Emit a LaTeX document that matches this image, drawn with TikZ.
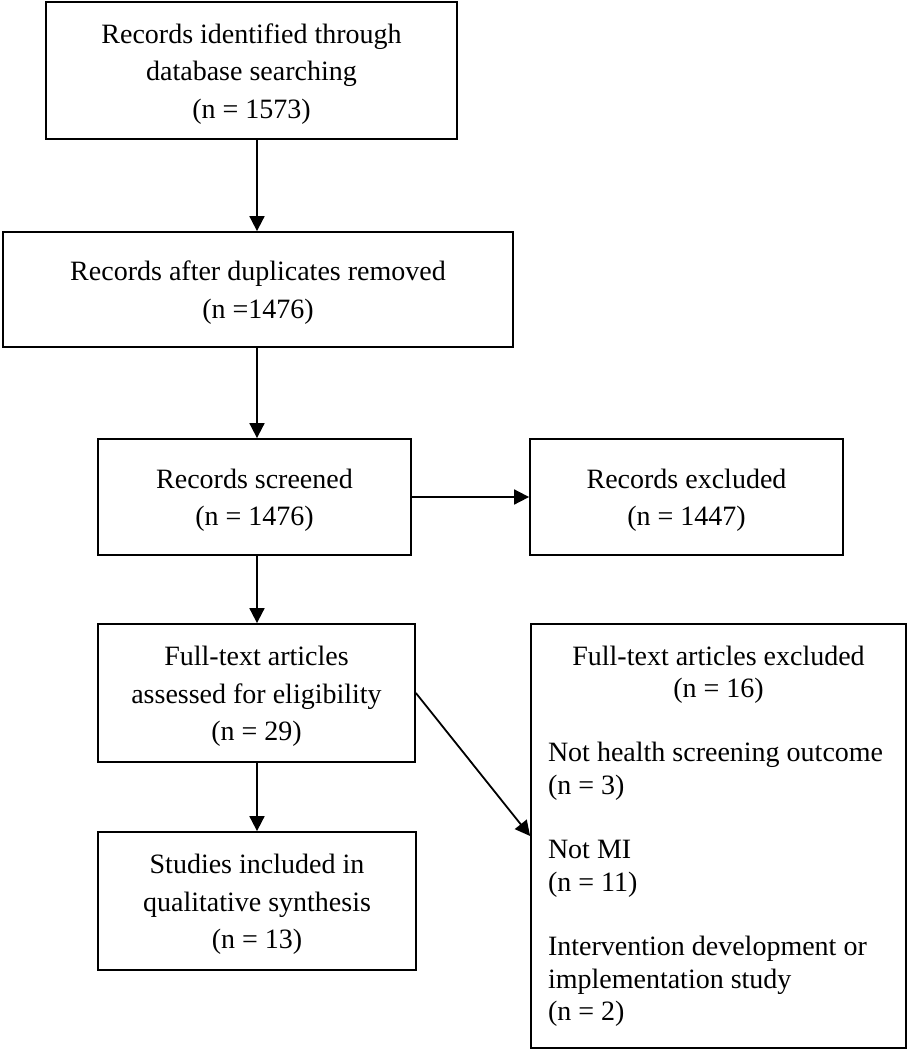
\documentclass[tikz,border=0pt]{standalone}
\usepackage{fontspec}
\setmainfont{Liberation Serif}
\usetikzlibrary{arrows.meta}
\tikzset{
  box/.style={draw, line width=1.8pt, inner sep=0pt, align=center,
    font=\fontsize{28}{37.5}\selectfont},
  arr/.style={line width=1.8pt, -{Triangle[length=15pt,width=15pt]}}
}
\begin{document}
\begin{tikzpicture}[x=1pt,y=-1pt]
\useasboundingbox (0,0) rectangle (907,1050);
\node[box, minimum width=411pt, minimum height=137pt] (b1) at (251.5,70.5)
  {\rule{0pt}{26pt}Records identified through\\database searching\\(n = 1573)};
\node[box, minimum width=510pt, minimum height=115pt] (b2) at (258,289.5)
  {\rule{0pt}{26pt}Records after duplicates removed\\(n =1476)};
\node[box, minimum width=313pt, minimum height=116pt] (b3) at (254.5,497)
  {\rule{0pt}{26pt}Records screened\\(n = 1476)};
\node[box, minimum width=313pt, minimum height=116pt] (x1) at (686.5,497)
  {\rule{0pt}{26pt}Records excluded\\(n = 1447)};
\node[box, minimum width=317pt, minimum height=138pt] (b4) at (256.5,693)
  {\rule{0pt}{26pt}Full-text articles\\assessed for eligibility\\(n = 29)};
\node[box, minimum width=318pt, minimum height=138pt] (b5) at (257,901)
  {\rule{0pt}{26pt}Studies included in\\qualitative synthesis\\(n = 13)};
\node[box, minimum width=375pt, minimum height=424pt, align=left,
  font=\fontsize{28}{32.3}\selectfont] (x2) at (718.5,836)
  {\makebox[341pt][c]{Full-text articles excluded}\\
   \makebox[341pt][c]{(n = 16)}\\[32.3pt]
   Not health screening outcome\\
   (n = 3)\\[32.3pt]
   Not MI\\
   (n = 11)\\[32.3pt]
   Intervention development or\\
   implementation study\\
   (n = 2)};
\coordinate (col) at (257,0);
\draw[arr] (b1.south -| col) -- (b2.north -| col);
\draw[arr] (b2.south -| col) -- (b3.north -| col);
\draw[arr] (b3.east) -- (x1.west);
\draw[arr] (b3.south -| col) -- (b4.north -| col);
\draw[arr] (b4.south -| col) -- (b5.north -| col);
\draw[arr] (b4.east) -- (x2.west);
\end{tikzpicture}
\end{document}
